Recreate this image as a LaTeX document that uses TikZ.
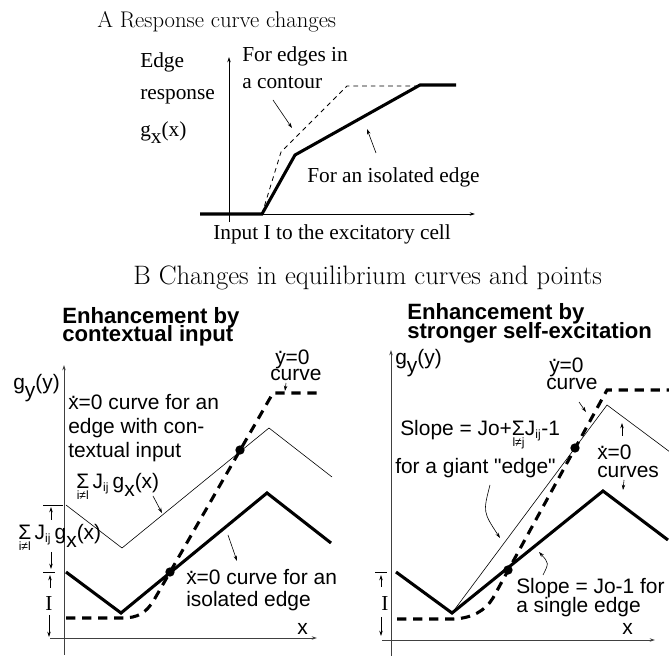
\documentclass[tikz,border=0pt]{standalone}
\usepackage{fontspec}
\newfontfamily\timesf{Liberation Serif}
\newfontfamily\helv{Liberation Sans}
\usetikzlibrary{arrows.meta}

% dotted variables and the sum with its index set below
\newcommand{\xdot}{\ooalign{x\cr\hidewidth\raisebox{1.05ex}{.}\hidewidth\cr}}
\newcommand{\ydot}{\ooalign{y\cr\hidewidth\raisebox{1.05ex}{.}\hidewidth\cr}}
\newcommand{\subfont}{\fontsize{9}{9}\selectfont}
\newcommand{\sumover}[1]{$\mathop{\hbox{Σ}}\limits_{\hbox{\subfont #1}}$}
\newcommand{\Jij}{J$_{\hbox{\subfont ij}}$}
\newcommand{\gof}[1]{g\raisebox{-0.65ex}{#1}(#1)}

\begin{document}
\begin{tikzpicture}[x=0.75pt, y=-0.75pt, >={Stealth[length=4pt,width=2.6pt]},
    ttlA/.style={inner sep=0pt, anchor=base west, font=\fontsize{17}{19}\selectfont},
    ttlB/.style={inner sep=0pt, anchor=base west, font=\fontsize{20}{22}\selectfont},
    lblA/.style={inner sep=0pt, anchor=base west, font=\timesf\fontsize{16}{18}\selectfont},
    lblB/.style={inner sep=0pt, anchor=base west, font=\helv\fontsize{15.7}{17}\selectfont},
    lblI/.style={inner sep=0pt, anchor=base, font=\timesf\fontsize{16}{18}\selectfont},
    headB/.style={inner sep=0pt, anchor=base west, font=\helv\bfseries\fontsize{16.6}{18}\selectfont},
    axisA/.style={line width=0.5pt},
    axisB/.style={line width=0.6pt, black!75},
    thickc/.style={line width=2.3pt},
    thinc/.style={line width=0.45pt},
    dashA/.style={line width=0.6pt, dash pattern=on 3.5pt off 3pt},
    dashB/.style={line width=2.3pt, dash pattern=on 7pt off 5pt},
    note/.style={->, line width=0.45pt},
    fixpt/.style={circle, fill, inner sep=0pt, minimum size=7pt}]
\useasboundingbox (0,0) rectangle (669,656);

% ---------- A ----------
\node[ttlA] (titleA) at (97,28) {A Response curve changes};
\draw[axisA,->] (229,222) -- (229,57);
\draw[axisA,->] (200,214) -- (475,214);
\draw[dashA] (262,214) -- (281,152) -- (347,86) -- (420,86);
\draw[thickc] (200,214) -- (262,214) -- (295,155) -- (420,85) -- (456,85);
\node[lblA] (edge) at (140,68) {Edge};
\node[lblA] (resp) at (140,100) {response};
\node[lblA] (gx) at (140,137) {\gof{x}};
\node[lblA] (contour1) at (242,62) {For edges in};
\node[lblA] (contour2) at (242,89) {a contour};
\node[lblA] (isol) at (307,183) {For an isolated edge};
\node[lblA] (inputA) at (213,240) {Input I to the excitatory cell};
\coordinate (ca1) at (273,100); \coordinate (ca2) at (292,128);
\coordinate (ia1) at (376,153); \coordinate (ia2) at (367,129);
\draw[note] (ca1) -- (ca2);
\draw[note] (ia1) -- (ia2);

% ---------- B ----------
\node[ttlB] (titleB) at (133,285) {B Changes in equilibrium curves and points};

% left: contextual input
\node[headB] (headL1) at (62,324) {Enhancement by};
\node[headB] (headL2) at (62,342) {contextual input};
\draw[axisB,->] (64,655) -- (64,365);
\draw[axisB,->] (50,638) -- (317,638);
\draw[thinc] (66,505) -- (122,548) -- (269,428) -- (332,477);
\draw[thickc] (66,572) -- (121,613) -- (267,493) -- (331,543);
\draw[dashB] (66,618) -- (122,618) .. controls (138,618) and (146,613) .. (154,600)
    -- (273,393) -- (320,393);
\node[fixpt] (eqL1) at (240,450) {};
\node[fixpt] (eqL2) at (170,572) {};
\node[lblB] (gyL) at (13,390) {\gof{y}};
\node[lblB] (ctxA) at (68,410) {\xdot=0 curve for an};
\node[lblB] (ctxB) at (68,434) {edge with con-};
\node[lblB] (ctxC) at (68,458) {textual input};
\node[lblB] (sumU) at (76,489) {\sumover{i≠l}\,\Jij\,\gof{x}};
\node[lblB] (sumL) at (18,540) {\sumover{i≠l}\,\Jij\,\gof{x}};
\node[lblB] (ydotL) at (275,365) {\ydot=0};
\node[lblB] (ycurL) at (270,381) {curve};
\node[lblB] (isoA) at (186,585) {\xdot=0 curve for an};
\node[lblB] (isoB) at (186,607) {isolated edge};
\node[lblB] (xL) at (297,635) {x};
\node[lblI] (IL) at (49,610) {I};
\coordinate (uL1) at (153,496); \coordinate (uL2) at (162,513);
\coordinate (yL1) at (286,383); \coordinate (yL2) at (285,391);
\coordinate (iL1) at (228,535); \coordinate (iL2) at (237,561);
\draw[note] (uL1) -- (uL2);
\draw[note] (yL1) -- (yL2);
\draw[note] (iL1) -- (iL2);
% sizes on the left axis
\coordinate (tk1) at (43,505); \coordinate (tk1e) at (63,505);
\coordinate (tk2) at (43,572); \coordinate (tk2e) at (55,572);
\draw[thinc] (tk1) -- (tk1e);
\draw[thinc] (tk2) -- (tk2e);
\coordinate (d1) at (51,520); \coordinate (d1e) at (51,507);
\coordinate (d2) at (51,552); \coordinate (d2e) at (51,569);
\coordinate (d3) at (50,588); \coordinate (d3e) at (50,575);
\coordinate (d4) at (49,615); \coordinate (d4e) at (49,637);
\draw[note] (d1) -- (d1e);
\draw[note] (d2) -- (d2e);
\draw[note] (d3) -- (d3e);
\draw[note] (d4) -- (d4e);

% right: stronger self-excitation
\node[headB] (headR1) at (407,320) {Enhancement by};
\node[headB] (headR2) at (407,339) {stronger self-excitation};
\draw[axisB,->] (391,656) -- (391,350);
\draw[axisB,->] (382,640) -- (655,640);
\draw[thinc] (452,613) -- (607,405) -- (670,452);
\draw[thickc] (396,572) -- (452,613) -- (603,491) -- (668,540);
\draw[dashB] (397,619) -- (454,619) .. controls (472,618) and (485,611) .. (493,598)
    -- (607,390) -- (669,390);
\node[fixpt] (eqR1) at (575,448) {};
\node[fixpt] (eqR2) at (508,570) {};
\node[lblB] (gyR) at (395,365) {\gof{y}};
\node[lblB] (ydotR) at (549,373) {\ydot=0};
\node[lblB] (ycurR) at (546,390) {curve};
\node[lblB] (slopeG) at (400,436) {Slope = Jo+\sumover{l≠j}\Jij-1};
\node[lblB] (giant) at (395,474) {for a giant "edge"};
\node[lblB] (xcurA) at (597,460) {\xdot=0};
\node[lblB] (xcurB) at (597,478) {curves};
\node[lblB] (slopeS) at (516,594) {Slope = Jo-1 for};
\node[lblB] (single) at (516,613) {a single edge};
\node[lblB] (xR) at (622,635) {x};
\node[lblI] (IR) at (385,610) {I};
\coordinate (yR1) at (579,402); \coordinate (yR2) at (586,412);
\coordinate (xR1) at (622,436); \coordinate (xR2) at (622,423);
\coordinate (xR3) at (624,480); \coordinate (xR4) at (623,490);
\coordinate (gR1) at (490,485); \coordinate (gR2) at (500,538);
\coordinate (sR1) at (543,575); \coordinate (sR2) at (539,552);
\draw[note] (yR1) -- (yR2);
\draw[note] (xR1) -- (xR2);
\draw[note] (xR3) -- (xR4);
\draw[note] (gR1) .. controls (483,512) .. (gR2);
\draw[note] (sR1) .. controls (549,563) .. (sR2);
\coordinate (tk3) at (375,572); \coordinate (tk3e) at (387,572);
\draw[thinc] (tk3) -- (tk3e);
\coordinate (d5) at (381,587); \coordinate (d5e) at (381,575);
\coordinate (d6) at (381,617); \coordinate (d6e) at (381,636);
\draw[note] (d5) -- (d5e);
\draw[note] (d6) -- (d6e);
\end{tikzpicture}
\end{document}
